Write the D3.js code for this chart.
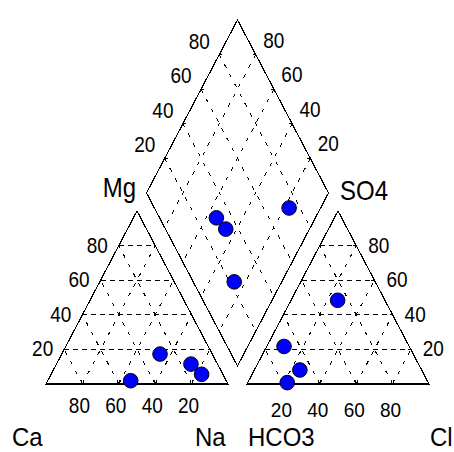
<!DOCTYPE html>
<html>
<head>
<meta charset="utf-8">
<script src="https://cdnjs.cloudflare.com/ajax/libs/d3/7.8.5/d3.min.js"></script>
<style>
  body { margin: 0; background: #fff; }
  svg { display: block; }
  text { font-family: Arial, "Liberation Sans", sans-serif; fill: #000; }
</style>
</head>
<body>
<div id="chart"></div>
<script>
// cation percentages (meq %)
var ca = [52.5, 28.7, 14.6, 11.7];
var mg = [1.9, 17.3, 11.5, 5.6];
var na = [45.6, 54.0, 73.9, 82.7];
// anion percentages (meq %)
var hco3 = [68.8, 66.9, 77.5, 26.0];
var cl = [9.5, 25.0, 21.7, 25.6];
var so4 = [21.7, 8.1, 0.8, 48.4];

var gridValues = [20, 40, 60, 80];
var tickLabels = ["20", "40", "60", "80"];

var width = 454, height = 452;
var side = 182, triH = 173, gap = 19;
var x0L = 46, x0R = x0L + side + gap, baseY = 384;

var sx = d3.scaleLinear().domain([0, 100]).range([0, side]);
var sy = d3.scaleLinear().domain([0, 100]).range([0, triH]);

// point in a triangle: a = right corner component, t = top component
function tri(x0, a, t) {
    return [x0 + sx(a) + sx(t) / 2, baseY - sy(t)];
}
// point in the diamond from Na and HCO3
function dia(n, h) {
    var g = gap / side * 100;
    return [x0L + sx(n + 200 + g - h) / 2, baseY - sy(200 + g - h - n)];
}

var svg = d3.select("#chart").append("svg")
    .attr("width", width)
    .attr("height", height);

var line = d3.line();

function label(x, y, str, size, anchor, stretch) {
    svg.append("text")
        .attr("transform", "translate(" + x + "," + y + ") scale(1," + (stretch || 1.12) + ")")
        .attr("text-anchor", anchor || "middle")
        .style("font-size", size + "px")
        .text(str);
}

// grid lines
var grid = svg.append("g").attr("fill", "none").attr("stroke", "#000")
    .attr("stroke-width", 1).attr("shape-rendering", "crispEdges");
gridValues.forEach(function (v) {
    // left triangle
    grid.append("path").attr("d", line([tri(x0L, 0, v), tri(x0L, 100 - v, v)])).attr("stroke-dasharray", "5,4");
    grid.append("path").attr("d", line([tri(x0L, v, 0), tri(x0L, v, 100 - v)])).attr("stroke-dasharray", "4,7");
    grid.append("path").attr("d", line([tri(x0L, 100 - v, 0), tri(x0L, 0, 100 - v)])).attr("stroke-dasharray", "4,7");
    // right triangle
    grid.append("path").attr("d", line([tri(x0R, 0, v), tri(x0R, 100 - v, v)])).attr("stroke-dasharray", "5,4");
    grid.append("path").attr("d", line([tri(x0R, v, 0), tri(x0R, v, 100 - v)])).attr("stroke-dasharray", "4,7");
    grid.append("path").attr("d", line([tri(x0R, 100 - v, 0), tri(x0R, 0, 100 - v)])).attr("stroke-dasharray", "4,7");
    // diamond
    grid.append("path").attr("d", line([dia(v, 0), dia(v, 100)])).attr("stroke-dasharray", "4,7");
    grid.append("path").attr("d", line([dia(0, v), dia(100, v)])).attr("stroke-dasharray", "4,7");
});

// outlines
var frame = svg.append("g").attr("fill", "none").attr("stroke", "#000")
    .attr("stroke-width", 1.2).attr("shape-rendering", "crispEdges");
frame.append("path").attr("d", line([tri(x0L, 0, 0), tri(x0L, 100, 0), tri(x0L, 0, 100)]) + "Z");
frame.append("path").attr("d", line([tri(x0R, 0, 0), tri(x0R, 100, 0), tri(x0R, 0, 100)]) + "Z");
frame.append("path").attr("d", line([dia(100, 100), dia(100, 0), dia(0, 0), dia(0, 100)]) + "Z");

// ticks and tick labels
var ticks = svg.append("g").attr("stroke", "#000").attr("stroke-width", 1)
    .attr("shape-rendering", "crispEdges");
gridValues.forEach(function (v, i) {
    // left base (Ca, reversed)
    var p = tri(x0L, v, 0);
    ticks.append("path").attr("d", line([[p[0] - 1, p[1]], [p[0] - 1, p[1] - 4]]));
    ticks.append("path").attr("d", line([[p[0] + 1, p[1]], [p[0] + 1, p[1] - 4]]));
    label(p[0] - 3, 413, tickLabels[3 - i], 19);
    // left edge (Mg)
    p = tri(x0L, 0, v);
    ticks.append("path").attr("d", line([p, [p[0] + 3, p[1]]]));
    label(p[0] - 11, p[1] + 7, tickLabels[i], 19, "end");
    // right base (Cl)
    p = tri(x0R, v, 0);
    ticks.append("path").attr("d", line([[p[0] - 1, p[1]], [p[0] - 1, p[1] - 4]]));
    ticks.append("path").attr("d", line([[p[0] + 1, p[1]], [p[0] + 1, p[1] - 4]]));
    label(p[0] - 2, 417, tickLabels[i], 19, "middle", 1.08);
    // right edge (SO4)
    p = tri(x0R, 100 - v, v);
    ticks.append("path").attr("d", line([p, [p[0] - 3, p[1]]]));
    label(p[0] + 12, p[1] + 7, tickLabels[i], 19, "start");
    // diamond upper-left edge
    p = dia(0, 100 - v);
    ticks.append("path").attr("d", line([p, [p[0] + 3, p[1]]]));
    label(p[0] - 20, p[1] - 6, tickLabels[i], 19);
    // diamond upper-right edge
    p = dia(100 - v, 0);
    ticks.append("path").attr("d", line([p, [p[0] - 3, p[1]]]));
    label(p[0] + 18, p[1] - 7, tickLabels[i], 19);
});

// axis names
label(12, 446, "Ca", 24, "start", 1.08);
label(195, 446, "Na", 24, "start", 1.08);
label(248, 446, "HCO3", 24, "start", 1.08);
label(430, 446, "Cl", 24, "start", 1.08);
label(136, 197, "Mg", 24, "end");
label(340, 200, "SO4", 24, "start");

// samples
var pts = [];
ca.forEach(function (c, i) {
    pts.push(tri(x0L, na[i], mg[i]));
});
cl.forEach(function (c, i) {
    pts.push(tri(x0R, c, so4[i]));
});
na.forEach(function (n, i) {
    pts.push(dia(n, hco3[i]));
});

svg.append("g").selectAll("circle")
    .data(pts)
    .enter().append("circle")
    .attr("cx", function (d) { return d[0]; })
    .attr("cy", function (d) { return d[1]; })
    .attr("r", 7.3)
    .attr("fill", "#0000ff")
    .attr("stroke", "#000")
    .attr("stroke-width", 1);
</script>
</body>
</html>
